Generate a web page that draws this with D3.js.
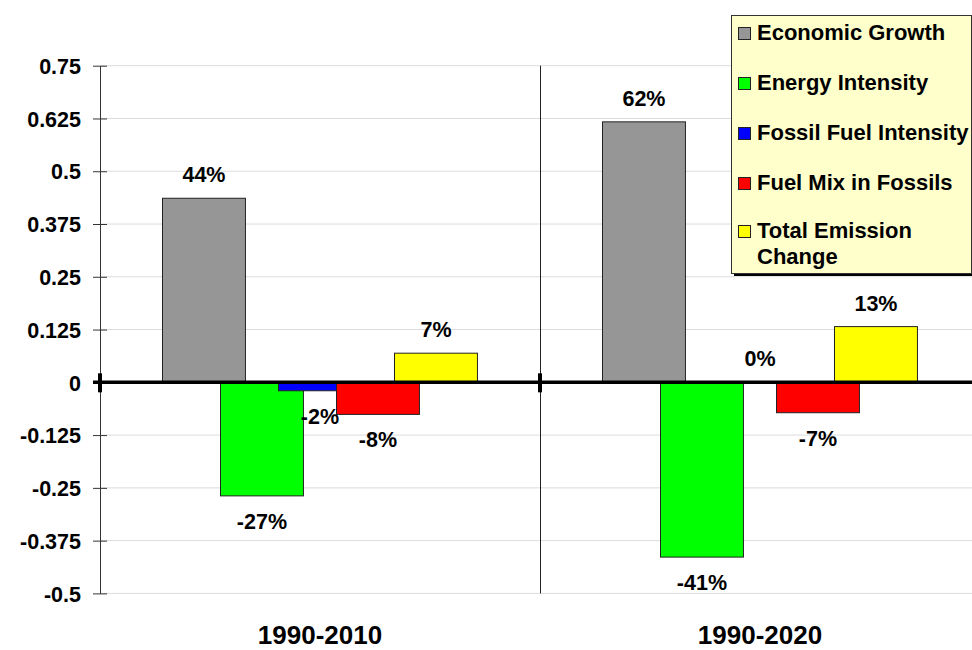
<!DOCTYPE html>
<meta charset="utf-8">
<style>
  body { margin: 0; background: #fff; }
  svg text { font-family: "Liberation Sans", Arial, sans-serif; font-weight: bold; fill: #000; }
</style>
<body>
<div id="chart"></div>
<script src="https://d3js.org/d3.v7.min.js"></script>
<script>

// periods and the decomposition of emission change for each
var periods = ["1990-2010", "1990-2020"];
var series = ["Economic Growth", "Energy Intensity", "Fossil Fuel Intensity", "Fuel Mix in Fossils", "Total Emission Change"];
var colors = ["#969696", "#00ff00", "#0000ff", "#ff0000", "#ffff00"];
var values2010 = [0.436, -0.269, -0.02, -0.076, 0.069];
var values2020 = [0.617, -0.414, 0, -0.072, 0.132];
var yTicks = [0.75, 0.625, 0.5, 0.375, 0.25, 0.125, 0, -0.125, -0.25, -0.375, -0.5];

var width = 972, height = 650;
var plotLeft = 100, plotRight = 980, plotTop = 65.7, plotBottom = 593.4;

var data = periods.map(function(p, i) {
  var vals = i == 0 ? values2010 : values2020;
  return { period: p, bars: series.map(function(s, j) { return { key: s, value: vals[j], color: colors[j] }; }) };
});

var svg = d3.select("#chart").append("svg")
    .attr("width", width)
    .attr("height", height);

var y = d3.scaleLinear()
  .domain([-0.5, 0.75])
  .range([plotBottom, plotTop]);

var x = d3.scaleBand()
  .domain(periods)
  .range([plotLeft, plotRight])
  .padding(0);

// bars overlap like excel: step 58, width 83
var xs = d3.scaleBand()
  .domain(series)
  .range([62.5, 62.5 + 5 * 58])
  .padding(0);
var barW = xs.step() * 1.43;

// gridlines
svg.append("g")
  .selectAll("line")
  .data(yTicks.filter(function(d) { return d != 0; }))
  .enter().append("line")
    .attr("x1", plotLeft).attr("x2", width)
    .attr("y1", function(d) { return y(d); })
    .attr("y2", function(d) { return y(d); })
    .attr("stroke", "#dcdcdc")
    .attr("stroke-width", 1);

// y axis
var yAxis = svg.append("g")
  .attr("transform", "translate(" + plotLeft + ",0)")
  .call(d3.axisLeft(y).tickValues(yTicks).tickSize(0).tickPadding(19).tickFormat(function(d) { return String(d); }));
yAxis.select(".domain").attr("stroke", "#333");
yAxis.selectAll(".tick line")
  .attr("x1", -7).attr("x2", 7)
  .attr("stroke", "#333");
yAxis.selectAll(".tick text")
  .attr("font-size", 21.5)
  .attr("dy", "0.36em")
  .style("font-family", "'Liberation Sans', Arial, sans-serif")
  .style("font-weight", "bold")
  .attr("fill", "#000");

// divider between periods
svg.append("line")
  .attr("x1", x(periods[1]) + 0.5).attr("x2", x(periods[1]) + 0.5)
  .attr("y1", plotTop).attr("y2", plotBottom)
  .attr("stroke", "#222");

// bars
var groups = svg.append("g")
  .selectAll("g")
  .data(data)
  .enter().append("g")
    .attr("transform", function(d) { return "translate(" + x(d.period) + ",0)"; });

groups.selectAll("rect")
  .data(function(d) { return d.bars; })
  .enter().append("rect")
    .attr("x", function(d) { return xs(d.key); })
    .attr("y", function(d) { return y(Math.max(0, d.value)); })
    .attr("width", barW)
    .attr("height", function(d) { return Math.abs(y(d.value) - y(0)); })
    .attr("fill", function(d) { return d.color; })
    .attr("stroke", "#222")
    .attr("stroke-width", 1);

// value labels
groups.selectAll("text")
  .data(function(d) { return d.bars; })
  .enter().append("text")
    .attr("x", function(d) { return xs(d.key) + barW / 2; })
    .attr("y", function(d) { return d.value >= 0 ? y(d.value) - 16 : y(d.value) + 33; })
    .attr("text-anchor", "middle")
    .attr("font-size", 21.5)
    .text(function(d) { return Math.round(d.value * 100) + "%"; });

// zero line with heavy category ticks
svg.append("line")
  .attr("x1", plotLeft - 7).attr("x2", width)
  .attr("y1", y(0)).attr("y2", y(0))
  .attr("stroke", "#000")
  .attr("stroke-width", 3.5);
svg.append("g")
  .selectAll("line")
  .data(periods)
  .enter().append("line")
    .attr("x1", function(d) { return x(d); })
    .attr("x2", function(d) { return x(d); })
    .attr("y1", y(0) - 9).attr("y2", y(0) + 10)
    .attr("stroke", "#000")
    .attr("stroke-width", 4);

// category labels
svg.append("g")
  .selectAll("text")
  .data(periods)
  .enter().append("text")
    .attr("x", function(d) { return x(d) + x.bandwidth() / 2; })
    .attr("y", 644)
    .attr("text-anchor", "middle")
    .attr("font-size", 26)
    .text(function(d) { return d; });

// legend
var legend = svg.append("g").attr("transform", "translate(731,15)");
legend.append("rect")
  .attr("x", 3).attr("y", 3)
  .attr("width", 245).attr("height", 258)
  .attr("fill", "#000");
legend.append("rect")
  .attr("x", 0.5).attr("y", 0.5)
  .attr("width", 240).attr("height", 258)
  .attr("fill", "#ffffcc")
  .attr("stroke", "#333");

var rowY = [25, 75, 125, 175, 223];
var items = legend.selectAll(".item")
  .data(series)
  .enter().append("g")
    .attr("transform", function(d, i) { return "translate(0," + rowY[i] + ")"; });
items.append("rect")
  .attr("x", 7.5).attr("y", -12.5)
  .attr("width", 12).attr("height", 12)
  .attr("fill", function(d, i) { return colors[i]; })
  .attr("stroke", "#222");
items.append("text")
  .attr("x", 26)
  .attr("font-size", 22)
  .each(function(d) {
    var t = d3.select(this);
    var lines = d == "Total Emission Change" ? ["Total Emission", "Change"] : [d];
    lines.forEach(function(l, k) {
      t.append("tspan").attr("x", 26).attr("dy", k == 0 ? 0 : 25.5).text(l);
    });
  });

</script>
</body>
